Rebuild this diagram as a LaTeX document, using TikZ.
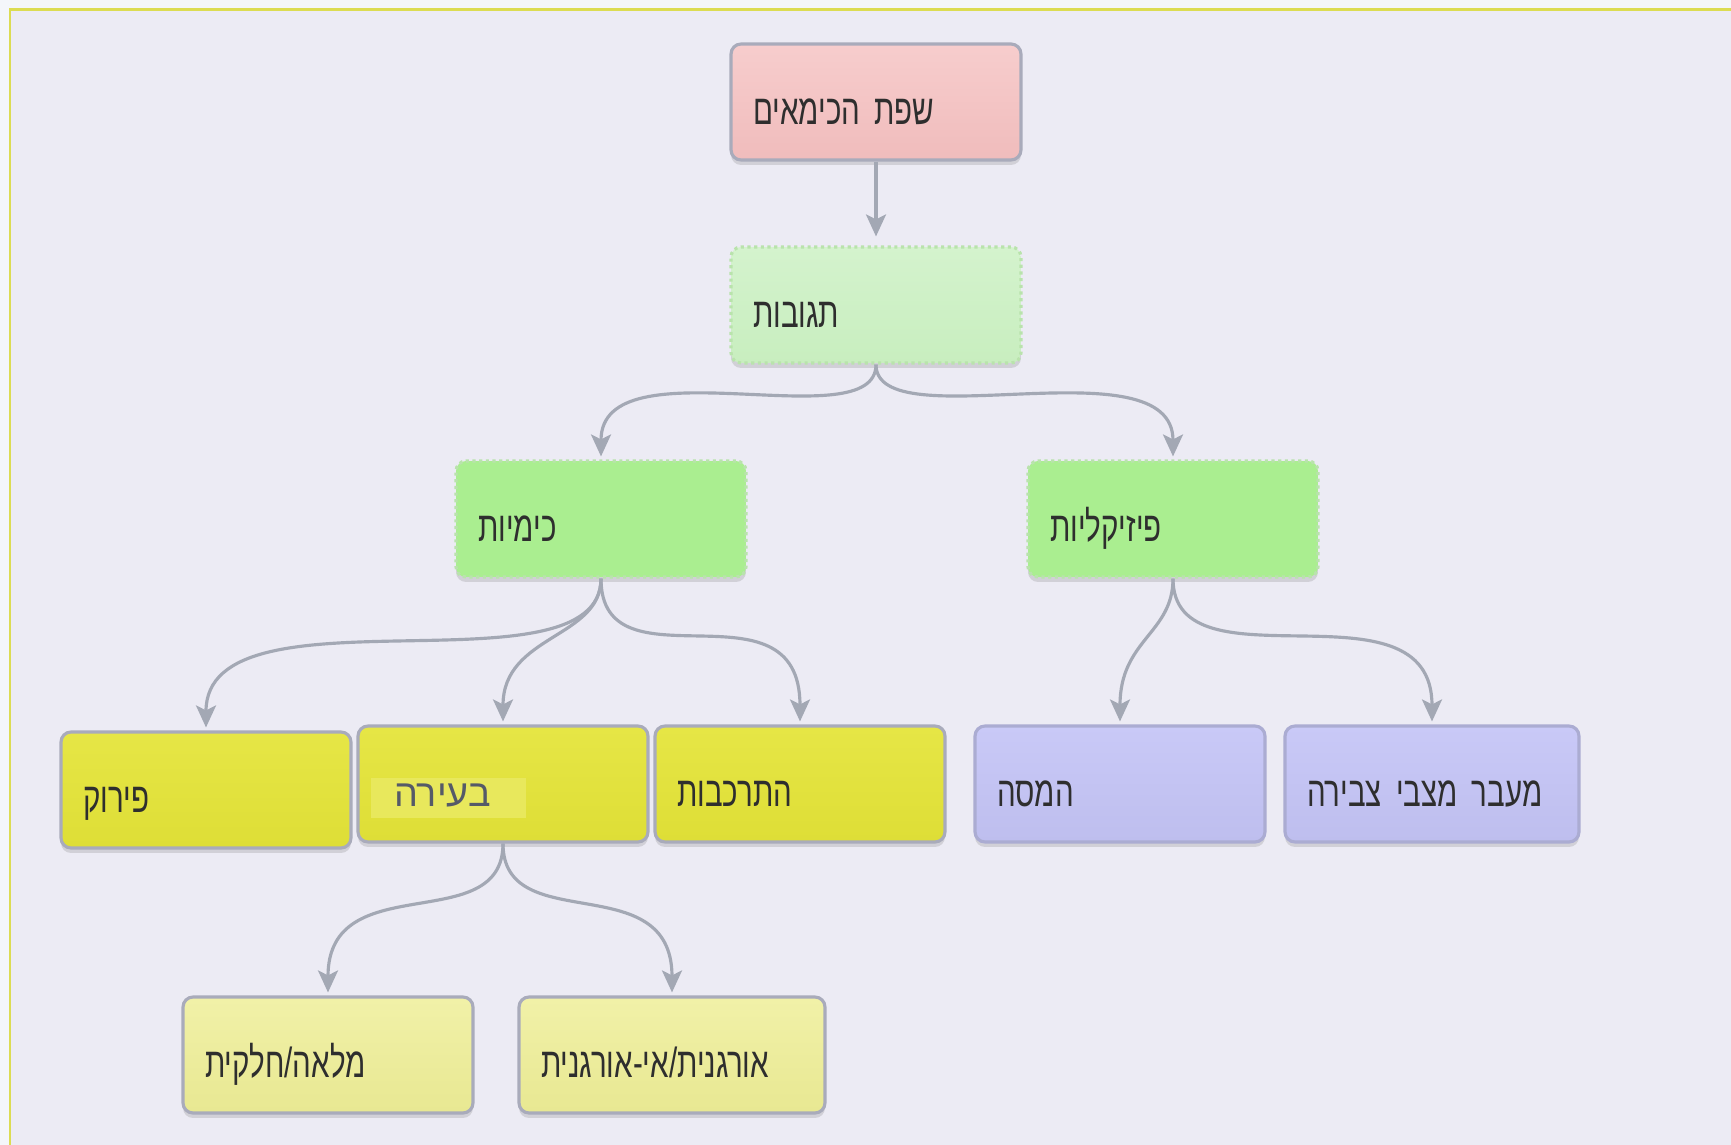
\documentclass[tikz,border=0pt]{standalone}
\usepackage{fontspec}
\setmainfont{Liberation Sans}
\newfontfamily\hebfont[Script=Hebrew,FakeStretch=0.7]{Liberation Sans}
\newfontfamily\hebwide[Script=Hebrew]{Liberation Sans}
\TeXXeTstate=1
\usetikzlibrary{arrows.meta, shadows}

\definecolor{outbg}{HTML}{F4F6FA}
\definecolor{inbg}{HTML}{ECEBF4}
\definecolor{frameyel}{HTML}{DCDC52}
\definecolor{conncol}{HTML}{A3A8B4}
\definecolor{boxline}{HTML}{A9ABBB}
\definecolor{txtcol}{HTML}{2E2E2E}
\definecolor{pinktop}{HTML}{F7CDCD}
\definecolor{pinkbot}{HTML}{F0BCBC}
\definecolor{paletop}{HTML}{D4F3CD}
\definecolor{palebot}{HTML}{C8EEBF}
\definecolor{greenfill}{HTML}{AAEE90}
\definecolor{greenline}{HTML}{B9E3AC}
\definecolor{yeltop}{HTML}{E6E646}
\definecolor{yelbot}{HTML}{DEDE36}
\definecolor{purtop}{HTML}{C9C9F7}
\definecolor{purbot}{HTML}{BEBEEE}
\definecolor{purline}{HTML}{ABACD2}
\definecolor{lyeltop}{HTML}{F1F1A8}
\definecolor{lyelbot}{HTML}{E8E892}
\definecolor{beirahl}{HTML}{E8E85C}
\definecolor{beiratxt}{HTML}{555A68}

\newcommand{\heb}[1]{\hebfont\beginR #1\endR}

\begin{document}
\begin{tikzpicture}[x=0.02cm, y=-0.02cm,
    box/.style={draw=boxline, line width=1.8pt, rounded corners=0.2cm,
      minimum width=5.8cm, minimum height=2.32cm, text width=4.92cm,
      inner xsep=0.44cm, align=left, text=txtcol,
      text height=0.9cm, text depth=0cm,
      font=\fontsize{24}{28}\selectfont,
      drop shadow={shadow xshift=0pt, shadow yshift=-0.1cm, opacity=0.2, fill=black!60}},
    rootbox/.style={box, top color=pinktop, bottom color=pinkbot},
    palebox/.style={box, draw=greenline, dotted, top color=paletop, bottom color=palebot},
    greenbox/.style={box, draw=greenline, dotted, fill=greenfill},
    yelbox/.style={box, top color=yeltop, bottom color=yelbot},
    purbox/.style={box, draw=purline, top color=purtop, bottom color=purbot},
    lyelbox/.style={box, top color=lyeltop, bottom color=lyelbot},
    conn/.style={draw=conncol, line width=1.8pt, shorten >=0.06cm,
      -{Stealth[length=0.44cm, width=0.4cm, inset=0.1cm]}}
  ]
    % page and frame
    \useasboundingbox (0,0) rectangle (1731,1145);
    \fill[outbg] (0,0) rectangle (1731,1145);
    \fill[inbg] (10,10) rectangle (1731,1145);
    \draw[frameyel, line width=0.06cm] (1731,10) -- (10,10) -- (10,1145);

    % nodes
    \node[rootbox] (root) at (876,102) {\heb{שפת הכימאים}};
    \node[palebox] (tguvot) at (876,305) {\heb{תגובות}};
    \node[greenbox] (chem) at (601,519) {\heb{כימיות}};
    \node[greenbox] (phys) at (1173,519) {\heb{פיזיקליות}};
    \node[yelbox] (piruk) at (206,790) {\heb{פירוק}};
    \node[yelbox] (beira) at (503,784) {\hspace*{-0.18cm}{\fboxsep=0pt\colorbox{beirahl}{%
      \rule[-0.24cm]{0pt}{0.82cm}\hspace{0.46cm}\color{beiratxt}\fontsize{21.5}{26}\selectfont
      \hebwide\beginR בעירה\endR\hspace{0.7cm}}}};
    \node[yelbox] (hitrakvut) at (800,784) {\heb{התרכבות}};
    \node[purbox] (hamasa) at (1120,784) {\heb{המסה}};
    \node[purbox, minimum width=5.88cm, text width=5cm] (maavar) at (1432,784) {\heb{מעבר מצבי צבירה}};
    \node[lyelbox] (mlea) at (328,1055) {\heb{מלאה/חלקית}};
    \node[lyelbox, minimum width=6.12cm, text width=5.24cm] (organit) at (672,1055) {\heb{אורגנית/אי-אורגנית}};

    % connectors
    \draw[conn, shorten >=0.18cm] (root) -- (tguvot);
    \foreach \from/\to/\a/\b in {tguvot/chem/76/118, tguvot/phys/76/118,
        chem/piruk/120/150, chem/beira/60/90, chem/hitrakvut/115/150,
        phys/hamasa/55/85, phys/maavar/115/150, beira/mlea/95/130, beira/organit/95/130}
      \draw[conn] (\from.south) .. controls +(0,\a) and +(0,-\b) .. (\to.north);
\end{tikzpicture}
\end{document}
